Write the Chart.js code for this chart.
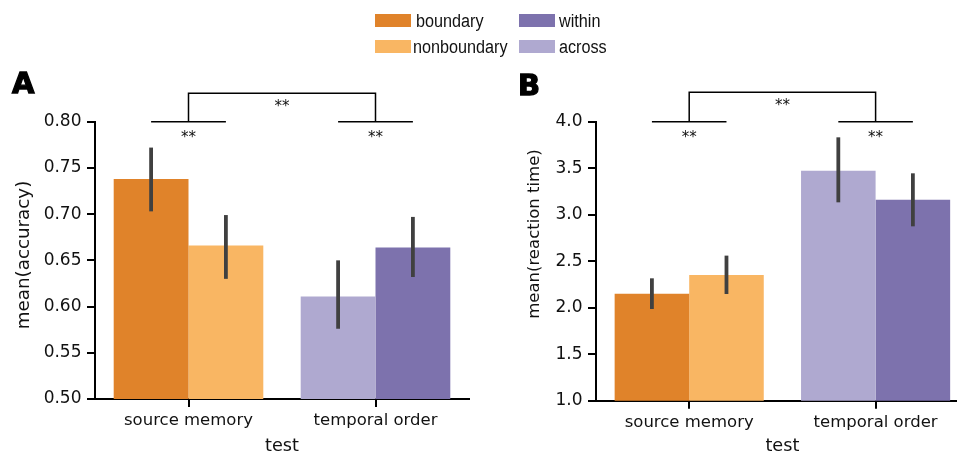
<!DOCTYPE html>
<html>
<head>
  <meta charset="UTF-8">
  <title>Accuracy and reaction time by test</title>
  <script src="https://cdn.jsdelivr.net/npm/chart.js"></script>
  <style>
    body { margin: 0; background: #fff; }
    #wrap { position: relative; width: 957px; height: 455px; overflow: hidden; font-family: "Liberation Sans", Arial, sans-serif; }
    canvas { position: absolute; top: 0; }
    #chartA { left: 0; }
    #chartB { left: 480px; }
    .letter { position: absolute; font-family: "DejaVu Sans"; font-weight: bold; font-size: 29px; line-height: 1; color: #000; -webkit-text-stroke: 1.3px #000; }
    .sw { position: absolute; width: 36px; height: 13px; }
    .lt { position: absolute; font-size: 18px; line-height: 1; color: #111; transform: scaleX(0.9); transform-origin: 0 0; white-space: nowrap; }
    .ytitle { position: absolute; font-family: "DejaVu Sans"; line-height: 1; color: #111; white-space: nowrap; transform: translate(-50%, -50%) rotate(-90deg); }
  </style>
</head>
<body>
<div id="wrap">
  <canvas id="chartA" width="480" height="455"></canvas>
  <canvas id="chartB" width="500" height="455"></canvas>
  <div class="letter" style="left:12px; top:69px;">A</div>
  <div class="letter" style="left:518px; top:71px;">B</div>
  <div class="ytitle" style="left:23px; top:254.5px; font-size:18.3px;">mean(accuracy)</div>
  <div class="ytitle" style="left:534px; top:234px; font-size:16.5px;">mean(reaction time)</div>
  <!-- legend -->
  <div class="sw" style="left:375px; top:14px; background:#e0832a;"></div>
  <div class="lt" style="left:415.5px; top:12px;">boundary</div>
  <div class="sw" style="left:519px; top:14px; background:#7d72ad;"></div>
  <div class="lt" style="left:559px; top:12px;">within</div>
  <div class="sw" style="left:375px; top:40px; background:#f9b663;"></div>
  <div class="lt" style="left:412.5px; top:37.5px;">nonboundary</div>
  <div class="sw" style="left:519px; top:40px; background:#afa9d0;"></div>
  <div class="lt" style="left:559px; top:37.5px;">across</div>
</div>

<script>
const categories = ['source memory', 'temporal order'];

// first bar in each group: boundary / across, second: nonboundary / within
const accFirst   = [0.738, 0.611];
const accFirstLo = [0.703, 0.576];
const accFirstHi = [0.772, 0.650];
const accSecond   = [0.666, 0.664];
const accSecondLo = [0.630, 0.632];
const accSecondHi = [0.699, 0.697];

const rtFirst   = [2.151, 3.473];
const rtFirstLo = [1.986, 3.133];
const rtFirstHi = [2.316, 3.832];
const rtSecond   = [2.352, 3.161];
const rtSecondLo = [2.147, 2.875];
const rtSecondHi = [2.560, 3.445];

// significance brackets (value of lower lines / upper line)
const accSig = [0.800, 0.8307];
const rtSig = [4.0, 4.316];

const firstColors = ['#e0832a', '#afa9d0'];
const secondColors = ['#f9b663', '#7d72ad'];

const sigPlugin = {
  id: 'sig',
  afterDatasetsDraw(chart, args, opts) {
    const ctx = chart.ctx;
    const x = chart.scales.x, y = chart.scales.y;
    const m0 = chart.getDatasetMeta(0).data;
    const m1 = chart.getDatasetMeta(1).data;
    ctx.save();
    // error bars
    ctx.strokeStyle = '#404040';
    ctx.lineWidth = 3.8;
    ctx.lineCap = 'butt';
    [[m0, opts.lo[0], opts.hi[0]], [m1, opts.lo[1], opts.hi[1]]].forEach(([els, lo, hi]) => {
      els.forEach((el, i) => {
        ctx.beginPath();
        ctx.moveTo(el.x, y.getPixelForValue(lo[i]));
        ctx.lineTo(el.x, y.getPixelForValue(hi[i]));
        ctx.stroke();
      });
    });
    // brackets
    ctx.strokeStyle = '#000';
    ctx.lineWidth = 1.5;
    const yLow = y.getPixelForValue(opts.sig[0]);
    const yHigh = y.getPixelForValue(opts.sig[1]);
    for (let i = 0; i < 2; i++) {
      ctx.beginPath();
      ctx.moveTo(m0[i].x, yLow);
      ctx.lineTo(m1[i].x, yLow);
      ctx.stroke();
    }
    const c0 = x.getPixelForValue(0), c1 = x.getPixelForValue(1);
    ctx.beginPath();
    ctx.moveTo(c0, yLow);
    ctx.lineTo(c0, yHigh);
    ctx.lineTo(c1, yHigh);
    ctx.lineTo(c1, yLow);
    ctx.stroke();
    // stars
    ctx.fillStyle = '#111';
    ctx.font = '15px "DejaVu Sans"';
    ctx.textAlign = 'center';
    ctx.textBaseline = 'alphabetic';
    ctx.fillText('**', (c0 + c1) / 2, yHigh + 18);
    ctx.fillText('**', c0, yLow + 20);
    ctx.fillText('**', c1, yLow + 20);
    ctx.restore();
  }
};

function makeChart(id, first, second, lo, hi, sig, yOpts) {
  return new Chart(document.getElementById(id), {
    type: 'bar',
    data: {
      labels: categories,
      datasets: [
        { data: first, backgroundColor: firstColors, borderWidth: 0, categoryPercentage: 0.8, barPercentage: 1.0 },
        { data: second, backgroundColor: secondColors, borderWidth: 0, categoryPercentage: 0.8, barPercentage: 1.0 }
      ]
    },
    options: {
      responsive: false,
      animation: false,
      layout: { padding: { left: 0, right: yOpts.padRight, top: 121.7, bottom: 0 } },
      plugins: {
        legend: { display: false },
        tooltip: { enabled: false },
        sig: { lo: lo, hi: hi, sig: sig }
      },
      scales: {
        x: {
          z: 1,
          offset: true,
          grid: { drawOnChartArea: false, offset: false, tickLength: 8, color: '#000', lineWidth: 2 },
          border: { display: true, color: '#000', width: 2 },
          ticks: { color: '#111', padding: 4, font: { family: 'DejaVu Sans', size: 16.5 } },
          title: { display: true, text: 'test', color: '#111', padding: 0, font: { family: 'DejaVu Sans', size: 17.7, lineHeight: 1 } },
          afterFit(scale) { scale.height = yOpts.xHeight; }
        },
        y: {
          z: 1,
          min: yOpts.min,
          max: yOpts.max,
          grid: { drawOnChartArea: false, tickLength: 8, color: '#000', lineWidth: 2 },
          border: { display: true, color: '#000', width: 2 },
          ticks: {
            stepSize: yOpts.step,
            color: '#111',
            padding: 5.5,
            font: { family: 'DejaVu Sans', size: 17 },
            callback: v => v.toFixed(yOpts.digits)
          },
          afterFit(scale) { scale.width = yOpts.yWidth; }
        }
      }
    },
    plugins: [sigPlugin]
  });
}

makeChart('chartA', accFirst, accSecond, [accFirstLo, accSecondLo], [accFirstHi, accSecondHi], accSig,
  { min: 0.5, max: 0.8, step: 0.05, digits: 2, yWidth: 95, xHeight: 56, padRight: 11 });
makeChart('chartB', rtFirst, rtSecond, [rtFirstLo, rtSecondLo], [rtFirstHi, rtSecondHi], rtSig,
  { min: 1.0, max: 4.0, step: 0.5, digits: 1, yWidth: 116, xHeight: 54.3, padRight: 11.2 });
</script>
</body>
</html>
